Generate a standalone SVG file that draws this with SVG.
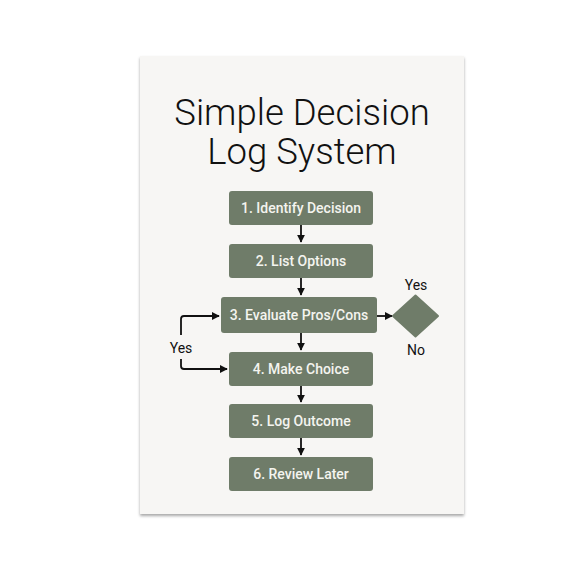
<svg xmlns="http://www.w3.org/2000/svg" width="576" height="576" viewBox="0 0 576 576">
<defs>
<style>
.box{fill:#6f7c69;}
.lbl{font-family:Roboto,"Liberation Sans",sans-serif;font-size:14px;font-weight:500;fill:#f4f4ef;text-anchor:middle;}
.t{font-family:Roboto,"Liberation Sans",sans-serif;font-size:14px;fill:#111;text-anchor:middle;}
.title{font-family:Roboto,"Liberation Sans",sans-serif;font-size:36.5px;font-weight:300;fill:#111;text-anchor:middle;}
.c{fill:none;stroke:#111;stroke-width:1.8;}
</style>
<marker id="ah" viewBox="0 0 10 10" refX="9" refY="5" markerWidth="8" markerHeight="8" orient="auto" markerUnits="userSpaceOnUse">
<path d="M0,0 L10,5 L0,10 z" fill="#111"/>
</marker>
<filter id="sh" x="-10%" y="-10%" width="120%" height="120%">
<feGaussianBlur in="SourceAlpha" stdDeviation="1.5"/>
<feOffset dx="0" dy="2"/>
<feComponentTransfer><feFuncA type="linear" slope="0.35"/></feComponentTransfer>
<feMerge><feMergeNode/><feMergeNode in="SourceGraphic"/></feMerge>
</filter>
</defs>
<rect width="576" height="576" fill="#ffffff"/>
<rect id="card" x="140" y="56" width="324" height="458" fill="#f7f6f4" filter="url(#sh)"/>
<text class="title" x="302" y="125">Simple Decision</text>
<text class="title" x="302" y="164">Log System</text>
<g id="connectors">
<path class="c" d="M301,225 V242" marker-end="url(#ah)"/>
<path class="c" d="M301,278 V295" marker-end="url(#ah)"/>
<path class="c" d="M301,333 V350" marker-end="url(#ah)"/>
<path class="c" d="M301,386 V402" marker-end="url(#ah)"/>
<path class="c" d="M301,438 V455" marker-end="url(#ah)"/>
<path class="c" d="M377,316 H392" marker-end="url(#ah)"/>
<path class="c" d="M181,335 V319 Q181,316 184,316 H219" marker-end="url(#ah)"/>
<path class="c" d="M181,359 V366 Q181,369 184,369 H227" marker-end="url(#ah)"/>
<text class="t" x="181" y="353">Yes</text>
<text class="t" x="416" y="290">Yes</text>
<text class="t" x="416" y="355">No</text>
</g>
<g id="n1"><rect class="box" x="229" y="191" width="144" height="34" rx="3"/><text class="lbl" x="301" y="213">1. Identify Decision</text></g>
<g id="n2"><rect class="box" x="229" y="244" width="144" height="34" rx="3"/><text class="lbl" x="301" y="266">2. List Options</text></g>
<g id="n3"><rect class="box" x="221" y="297" width="156" height="36" rx="3"/><text class="lbl" x="299" y="320">3. Evaluate Pros/Cons</text></g>
<g id="n4"><rect class="box" x="229" y="352" width="144" height="34" rx="3"/><text class="lbl" x="301" y="374">4. Make Choice</text></g>
<g id="n5"><rect class="box" x="229" y="404" width="144" height="34" rx="3"/><text class="lbl" x="301" y="426">5. Log Outcome</text></g>
<g id="n6"><rect class="box" x="229" y="457" width="144" height="34" rx="3"/><text class="lbl" x="301" y="479">6. Review Later</text></g>
<g id="decision"><path class="box" d="M415.5,295.5 L438,316 L415.5,336.5 L393,316 Z" stroke="#6f7c69" stroke-width="2" stroke-linejoin="round"/></g>
</svg>
